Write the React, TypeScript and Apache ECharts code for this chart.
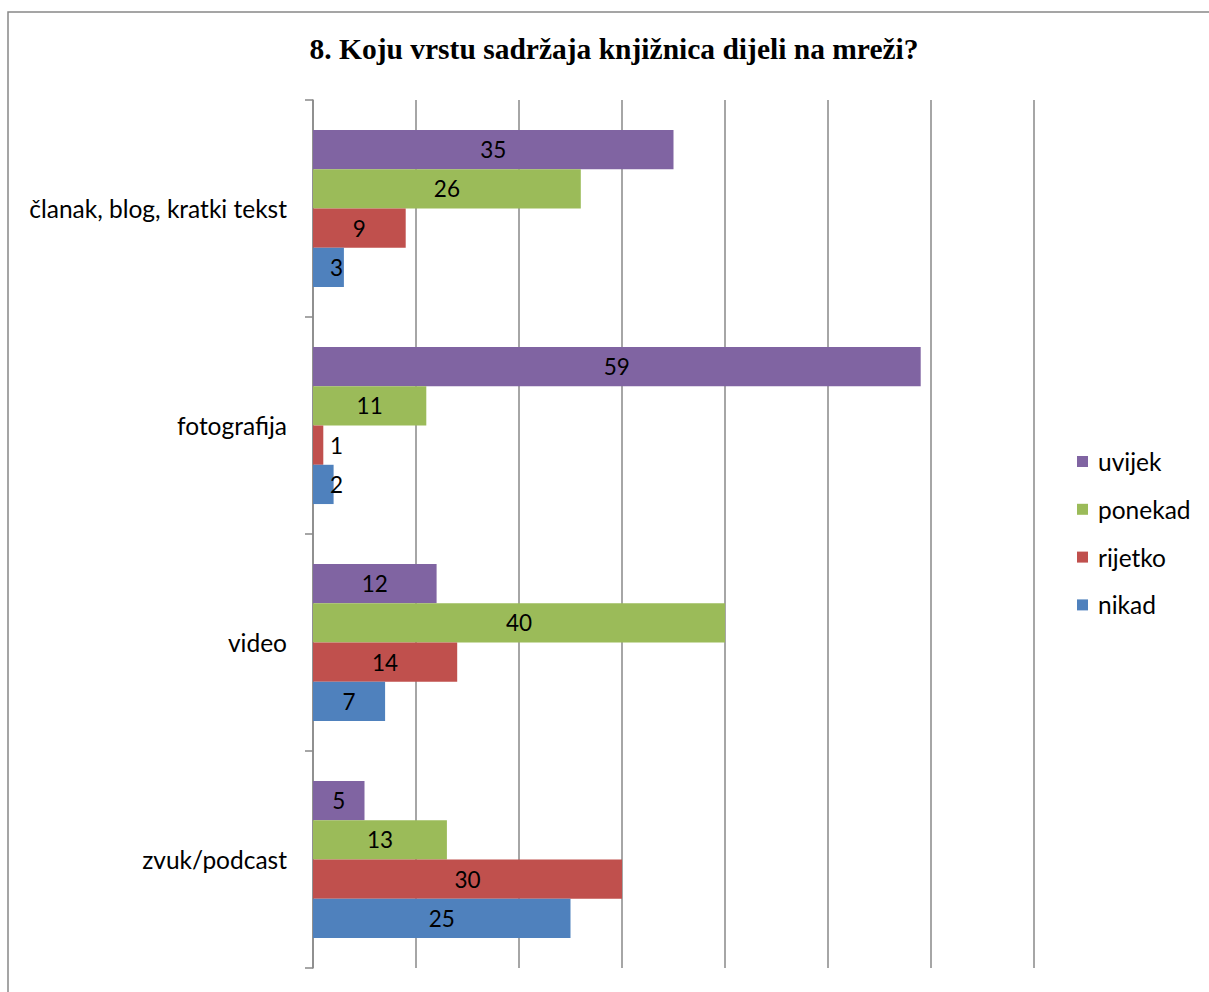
import React, { useEffect, useRef } from "react";
import * as echarts from "echarts";

const title = "8. Koju vrstu sadržaja knjižnica dijeli na mreži?";
const categories = ["članak, blog, kratki tekst", "fotografija", "video", "zvuk/podcast"];
const seriesNames = ["uvijek", "ponekad", "rijetko", "nikad"];
const uvijek = [35, 59, 12, 5];
const ponekad = [26, 11, 40, 13];
const rijetko = [9, 1, 14, 30];
const nikad = [3, 2, 7, 25];
const seriesColors = ["#8064A2", "#9BBB59", "#C0504D", "#4F81BD"];
const xMin = 0;
const xMax = 70;
const xInterval = 10;

const FONT = "Lato";
const GRID_COLOR = "#888888";

export default function App() {
  const ref = useRef<HTMLDivElement>(null);
  useEffect(() => {
    if (!ref.current) return;
    const chart = echarts.init(ref.current, undefined, { renderer: "svg" });
    const allValues = [uvijek, ponekad, rijetko, nikad];
    const series = allValues.map((vals, i) => ({
      name: seriesNames[i],
      type: "bar",
      barGap: "0%",
      barCategoryGap: "27.6%",
      itemStyle: { color: seriesColors[i] },
      data: vals.map((v) =>
        v <= 3
          ? {
              value: v,
              label: { position: [17, "50%"], align: "left", verticalAlign: "middle" },
            }
          : { value: v }
      ),
      label: {
        show: true,
        position: "inside",
        color: "#000",
        fontFamily: FONT,
        fontSize: 22.5,
      },
    }));
    chart.setOption({
      animation: false,
      title: {
        text: title,
        left: 614,
        top: 34,
        padding: 0,
        textAlign: "center",
        textStyle: {
          fontFamily: "Liberation Serif",
          fontWeight: "bold",
          fontSize: 29.5,
          color: "#000",
        },
      },
      graphic: [
        {
          type: "rect",
          shape: { x: 8, y: 12, width: 1400, height: 1200 },
          style: { fill: "none", stroke: GRID_COLOR, lineWidth: 1.5 },
          silent: true,
        },
      ],
      legend: {
        orient: "vertical",
        left: 1077,
        top: 449,
        padding: 0,
        itemWidth: 11,
        itemHeight: 11,
        itemGap: 22.8,
        icon: "rect",
        data: seriesNames,
        textStyle: {
          fontFamily: FONT,
          fontSize: 24.5,
          color: "#000",
          padding: [0, 0, 0, 5],
        },
      },
      grid: { left: 313, right: 175, top: 100, bottom: 24, containLabel: false },
      xAxis: {
        type: "value",
        min: xMin,
        max: xMax,
        interval: xInterval,
        axisLabel: { show: false },
        axisLine: { show: false },
        axisTick: { show: false },
        splitLine: { show: true, lineStyle: { color: GRID_COLOR, width: 1.5 } },
      },
      yAxis: {
        type: "category",
        inverse: true,
        data: categories,
        axisLine: { show: true, lineStyle: { color: GRID_COLOR, width: 1.5 } },
        axisTick: { show: true, length: 8, lineStyle: { color: GRID_COLOR, width: 1.5 } },
        axisLabel: {
          color: "#000",
          fontFamily: FONT,
          fontSize: 24.5,
          margin: 26,
        },
      },
      series,
    });
    return () => chart.dispose();
  }, []);
  return (
    <div
      ref={ref}
      style={{ position: "absolute", left: 0, top: 0, width: 1209, height: 992, background: "#fff" }}
    />
  );
}
